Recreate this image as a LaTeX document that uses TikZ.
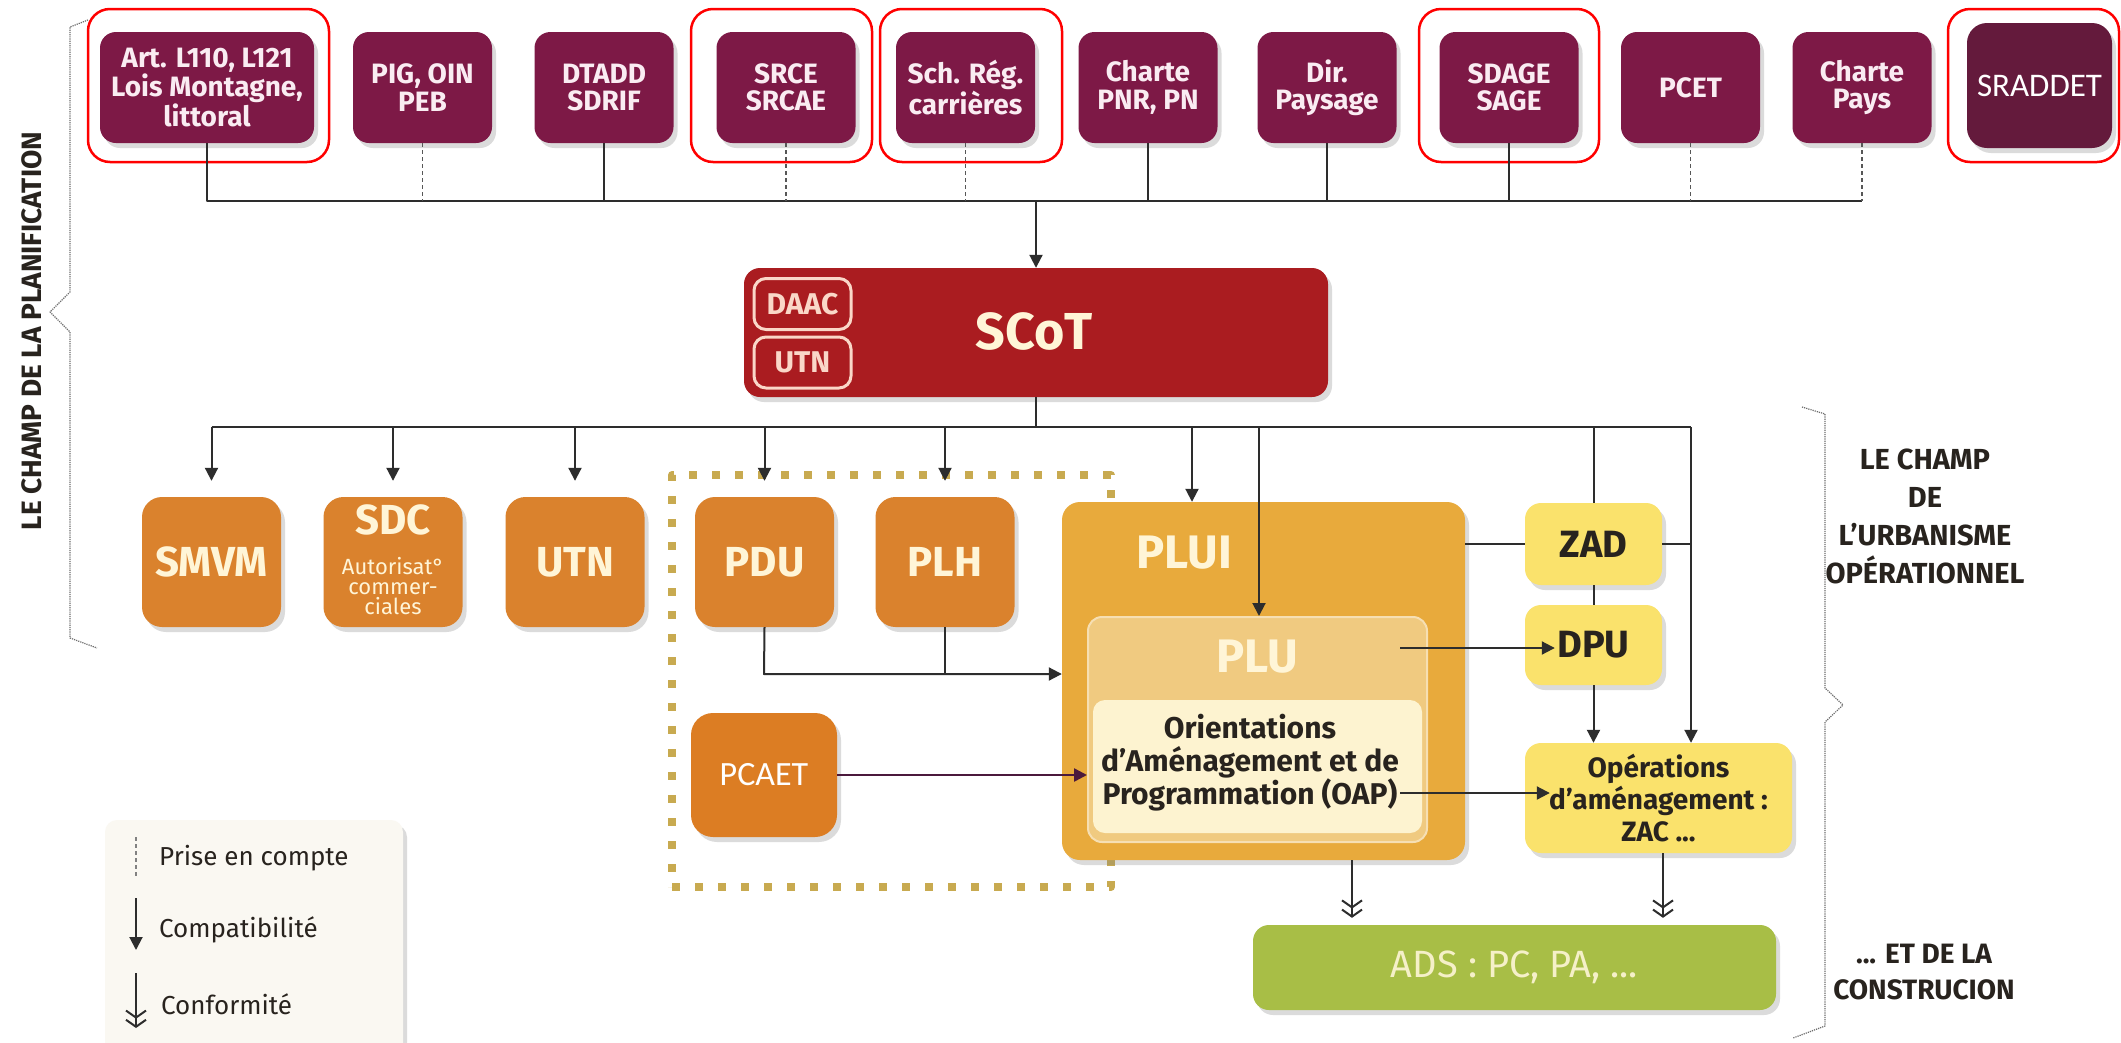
\documentclass[tikz,border=0pt]{standalone}
\usepackage{fontspec}
\setmainfont{Fira Sans}
\newfontfamily\din{Fira Sans}
\newfontfamily\calfont{Carlito}
\usetikzlibrary{arrows.meta,shadows,calc}
\newcommand{\fs}[2]{\fontsize{#1}{#2}\selectfont}
\definecolor{cMaroon}{RGB}{125,25,70}
\definecolor{cSrad}{RGB}{100,26,60}
\definecolor{cTopTxt}{RGB}{250,236,242}
\definecolor{cScot}{RGB}{170,28,32}
\definecolor{cSub}{RGB}{250,215,200}
\definecolor{cOrange}{RGB}{218,130,45}
\definecolor{cPcaet}{RGB}{220,125,35}
\definecolor{cCream}{RGB}{255,245,215}
\definecolor{cPlui}{RGB}{232,170,60}
\definecolor{cPlu}{RGB}{240,202,128}
\definecolor{cOap}{RGB}{253,243,208}
\definecolor{cYellow}{RGB}{250,226,108}
\definecolor{cAds}{RGB}{168,190,70}
\definecolor{cAdsTxt}{RGB}{245,240,200}
\definecolor{cDot}{RGB}{200,170,80}
\definecolor{cPurple}{RGB}{75,25,60}
\definecolor{cLine}{RGB}{45,45,45}
\definecolor{cDark}{RGB}{40,35,30}
\definecolor{cLegend}{RGB}{250,248,242}
\tikzset{
 conn/.style={draw=cLine, line width=2pt},
 arr/.style={conn, -{Triangle[length=13pt,width=13pt]}},
 dbl/.style={conn, -{Straight Barb[length=7pt,width=20pt]Straight Barb[length=7pt,width=20pt]}},
 dashln/.style={draw=cLine!80, line width=1.6pt, dash pattern=on 4pt off 3pt},
 shad/.style={drop shadow={shadow xshift=4pt, shadow yshift=-5pt, opacity=0.28}},
 topbox/.style={shad, rounded corners=16pt, fill=cMaroon, text=cTopTxt, minimum width=139pt, minimum height=111pt, inner sep=0pt, align=center, font=\din\bfseries\fs{28}{27.5}},
 redframe/.style={draw=red, line width=2.5pt, rounded corners=22pt, minimum height=153pt, inner sep=0pt},
 obox/.style={shad, rounded corners=20pt, fill=cOrange, text=cCream, minimum width=139pt, minimum height=130pt, inner sep=0pt, align=center, font=\din\bfseries\fs{42}{42}},
 ybox/.style={shad, rounded corners=16pt, fill=cYellow, text=cDark, inner sep=0pt, align=center, font=\din\bfseries\fs{38}{38}},
 dotframe/.style={draw=cDot, line width=8pt, dash pattern=on 8pt off 15pt, inner sep=0pt},
 subbox/.style={draw=cSub, line width=3pt, rounded corners=12pt, fill=cScot, text=cSub, minimum width=97pt, minimum height=51pt, inner sep=0pt, font=\din\bfseries\fs{30}{30}},
 sidetxt/.style={text=cDark, align=center, inner sep=0pt, font=\din\bfseries\fs{29}{38}},
 legtxt/.style={text=cDark, anchor=west, inner sep=0pt, font=\din\fs{26}{26}},
}
\begin{document}
\begin{tikzpicture}[x=1pt,y=-1pt,line join=round]
\useasboundingbox[fill=white] (0,0) rectangle (2121,1042);

% ---- top row
\node[topbox, minimum width=214pt] (art) at (207,87.5) {Art. L110, L121\\Lois Montagne,\\littoral};
\node[topbox] (pig) at (422.5,87.5) {PIG, OIN\\PEB};
\node[topbox] (dtadd) at (604,87.5) {DTADD\\SDRIF};
\node[topbox] (srce) at (786,87.5) {SRCE\\SRCAE};
\node[topbox] (sch) at (965.5,87.5) {Sch. Rég.\\carrières};
\node[topbox] (pnr) at (1148,87.5) {Charte\\PNR, PN};
\node[topbox] (dir) at (1327,87.5) {Dir.\\Paysage};
\node[topbox] (sdage) at (1509,87.5) {SDAGE\\SAGE};
\node[topbox] (pcet) at (1690.5,87.5) {PCET};
\node[topbox] (pays) at (1862,87.5) {Charte\\Pays};
\node[topbox, fill=cSrad, text=white, minimum width=145pt, minimum height=125pt, rounded corners=20pt, font=\calfont\fs{33}{33}] (sraddet) at (2039.5,85.5) {SRADDET};

\node[redframe, minimum width=241pt] (fr1) at (208.5,85.5) {};
\node[redframe, minimum width=181pt] (fr2) at (781.5,85.5) {};
\node[redframe, minimum width=182pt] (fr3) at (971,85.5) {};
\node[redframe, minimum width=180pt] (fr4) at (1509,85.5) {};
\node[redframe, minimum width=171pt] (fr5) at (2033.5,85.5) {};

\coordinate (bus) at (0,201);
\draw[conn] (art.south) -- (art.south |- bus) -- (pays.south |- bus);
\foreach \n in {dtadd,pnr,dir,sdage} \draw[conn] (\n.south) -- (\n.south |- bus);
\foreach \n in {pig,srce,sch,pcet,pays} \draw[dashln] (\n.south) -- (\n.south |- bus);

% ---- SCoT
\node[shad, rounded corners=16pt, fill=cScot, minimum width=584pt, minimum height=129pt, inner sep=0pt] (scot) at (1036,332.5) {};
\node[text=cCream, font=\din\bfseries\fs{52}{52}, inner sep=0pt] (scott) at (1034,331) {SCoT};
\node[subbox] (daac) at (802.5,304) {DAAC};
\node[subbox] (utns) at (802.5,362.5) {UTN};
\draw[arr] (scot.north |- bus) -- (scot.north);

% ---- dotted group frame
\node[dotframe, minimum width=439pt, minimum height=412pt] (grp) at (891.5,681) {};

% ---- orange boxes
\node[obox] (smvm) at (211.5,562) {SMVM};
\node[obox] (sdc) at (393,562) {};
\node[text=cCream, font=\din\bfseries\fs{42}{42}, inner sep=0pt] (sdct) at (393,520) {SDC};
\node[text=cCream, align=center, font=\din\fs{22}{20}, inner sep=0pt] (sdcs) at (393,586) {Autorisat°\\commer-\\ciales};
\node[obox] (utn) at (575,562) {UTN};
\node[obox] (pdu) at (764.5,562) {PDU};
\node[obox] (plh) at (945,562) {PLH};
\node[shad, rounded corners=22pt, fill=cPcaet, text=white, minimum width=146pt, minimum height=124pt, inner sep=0pt, font=\calfont\fs{34}{34}] (pcaet) at (764,775) {PCAET};

% ---- PLUI
\node[shad, rounded corners=18pt, fill=cPlui, minimum width=403pt, minimum height=358pt, inner sep=0pt] (plui) at (1263.5,681) {};
\node[text=cCream, font=\din\bfseries\fs{47}{47}, inner sep=0pt] (pluit) at (1184,553) {PLUI};
\node[draw=cPlu!60!white, line width=2pt, rounded corners=14pt, fill=cPlu, minimum width=339pt, minimum height=225pt, inner sep=0pt] (plu) at (1257.5,729.5) {};
\node[text=cCream, font=\din\bfseries\fs{47}{47}, inner sep=0pt] (plut) at (1257,657) {PLU};
\node[rounded corners=12pt, fill=cOap, minimum width=329pt, minimum height=133pt, inner sep=0pt] (oap) at (1257.5,766.5) {};
\node[text=cDark, align=center, font=\din\bfseries\fs{30}{33}, inner sep=0pt] (oapt) at (1250,763) {Orientations\\d’Aménagement et de\\Programmation (OAP)};

% ---- yellow boxes
\node[ybox, minimum width=137pt, minimum height=82pt] (zad) at (1593.5,544) {ZAD};
\node[ybox, minimum width=137pt, minimum height=80pt] (dpu) at (1593.5,645) {DPU};
\node[ybox, minimum width=267pt, minimum height=110pt, font=\din\bfseries\fs{28}{32}] (ops) at (1658.5,798) {Opérations\\d’aménagement :\\ZAC ...};

% ---- ADS
\node[shad, rounded corners=16pt, fill=cAds, text=cAdsTxt, minimum width=523pt, minimum height=85pt, inner sep=0pt, font=\din\fs{38}{38}] (ads) at (1514.5,967.5) {ADS : PC, PA, ...};

% ---- lower bus and arrows
\coordinate (bus2) at (0,427);
\coordinate (busR) at (1691,427);
\coordinate (b1) at (1192,427);
\coordinate (b2) at (1259,427);
\draw[conn] (scot.south) -- (scot.south |- bus2);
\draw[conn] (smvm.north |- bus2) -- (busR);
\foreach \n in {smvm,sdc,utn,pdu,plh} \draw[arr] (\n.north |- bus2) -- ([yshift=16pt]\n.north);
\draw[arr] (b1) -- (b1 |- plui.north);
\draw[arr] (b2) -- (b2 |- plu.north);
\draw[conn] (zad.north |- bus2) -- (zad.north);
\draw[conn] (zad.south) -- (dpu.north);
\draw[arr] (dpu.south) -- (dpu.south |- ops.north);
\draw[arr] (busR) -- (busR |- ops.north);
\draw[conn] (zad.west -| plui.east) -- (zad.west);
\draw[conn] (zad.east) -- (zad.east -| busR);

\coordinate (j) at (764,674);
\draw[arr] (pdu.south) -- (j) -- (plui.west |- j);
\draw[conn] (plh.south) -- (plh.south |- j);
\draw[draw=cPurple, line width=2.5pt, -{Triangle[length=13pt,width=13pt]}] (pcaet.east) -- (pcaet.east -| plu.west);

\coordinate (plud) at (1400,648);
\draw[arr] (plud) -- ([xshift=30pt]dpu.west |- plud);
\coordinate (oapo) at (1400,793);
\draw[arr] (oapo) -- ([xshift=25pt]ops.west |- oapo);

\coordinate (pb) at (1352,860);
\draw[dbl, shorten >=7pt] (pb) -- (pb |- ads.north);
\coordinate (ob) at (1663,853);
\draw[dbl, shorten >=7pt] (ob) -- (ob |- ads.north);

% ---- braces and side texts
\draw[cLine!70, line width=1.2pt, densely dotted] (88,20) -- (70,27) -- (70,292) -- (50,312) -- (70,332) -- (70,638) -- (97,648);
\node[sidetxt, rotate=90, font=\din\bfseries\fs{28}{28}] (lside) at (32,331) {LE CHAMP DE LA PLANIFICATION};
\draw[cLine!70, line width=1.2pt, densely dotted] (1802,407) -- (1825,414) -- (1825,688) -- (1843,705) -- (1825,722) -- (1825,1026) -- (1793,1038);
\node[sidetxt] (rside1) at (1925,516) {LE CHAMP\\DE\\L’URBANISME\\OPÉRATIONNEL};
\node[sidetxt, font=\din\bfseries\fs{28}{36}] (rside2) at (1924,972) {... ET DE LA\\CONSTRUCION};

% ---- legend
\node[shad, rounded corners=12pt, fill=cLegend, minimum width=298pt, minimum height=250pt, inner sep=0pt] (leg) at (254,945) {};
\coordinate (l1a) at (136,837); \coordinate (l1b) at (136,877);
\draw[dashln, draw=cLine!60] (l1a) -- (l1b);
\node[legtxt] (lt1) at (159,858) {Prise en compte};
\coordinate (l2a) at (136,898); \coordinate (l2b) at (136,950);
\draw[arr] (l2a) -- (l2b);
\node[legtxt] (lt2) at (159,930) {Compatibilité};
\coordinate (l3a) at (136,973); \coordinate (l3b) at (136,1028);
\draw[dbl] (l3a) -- (l3b);
\node[legtxt] (lt3) at (161,1004) {Conformité};
\end{tikzpicture}
\end{document}
